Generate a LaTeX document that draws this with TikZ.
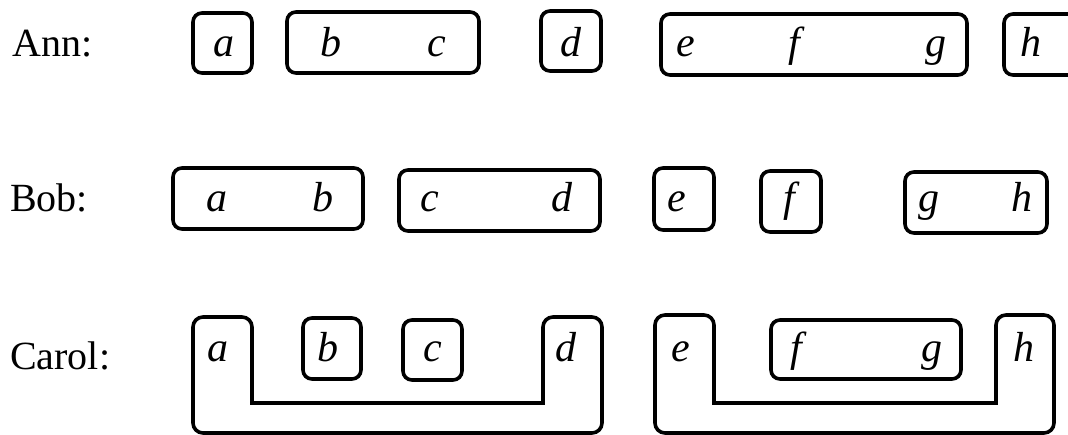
\documentclass[tikz,border=0pt]{standalone}
\usepackage{fontspec}
\setmainfont{Liberation Serif}
\begin{document}
\begin{tikzpicture}[x=1pt,y=-1pt,
  lab/.style={anchor=base west,inner sep=0pt,font=\fontsize{40}{48}\selectfont},
  let/.style={anchor=base,inner sep=0pt,font=\fontsize{42}{50}\selectfont\itshape},
  grp/.style={line width=3.6pt,rounded corners=9pt},
  ushape/.style={line width=3.6pt,line join=miter}]
\useasboundingbox (0,0) rectangle (1068,435);
% labels
\node[lab] (ann) at (12,57) {Ann:};
\node[lab] (bob) at (10,212) {Bob:};
\node[lab] (carol) at (10,370) {Carol:};
% Ann
\node[let] (aa) at (224,57) {a};
\node[let] (ab) at (331,57) {b};
\node[let] (ac) at (437,57) {c};
\node[let] (ad) at (571,57) {d};
\node[let] (ae) at (686,57) {e};
\node[let] (af) at (794,57) {f};
\node[let] (ag) at (936,57) {g};
\node[let] (ah) at (1031,57) {h};
\draw[grp] (193,13) rectangle (252,73);
\draw[grp] (287,12) rectangle (479,73);
\draw[grp] (541,11) rectangle (601,71);
\draw[grp] (661,14) rectangle (967,75);
\draw[grp] (1004,14) rectangle (1080,75);
% Bob
\node[let] (ba) at (217,212) {a};
\node[let] (bb) at (323,212) {b};
\node[let] (bc) at (430,212) {c};
\node[let] (bd) at (562,212) {d};
\node[let] (be) at (677,212) {e};
\node[let] (bf) at (789,212) {f};
\node[let] (bg) at (929,212) {g};
\node[let] (bh) at (1022,212) {h};
\draw[grp] (173,168) rectangle (363,229);
\draw[grp] (399,170) rectangle (600,231);
\draw[grp] (654,168) rectangle (714,230);
\draw[grp] (761,171) rectangle (821,232);
\draw[grp] (905,172) rectangle (1047,233);
% Carol
\node[let] (ca) at (218,362) {a};
\node[let] (cb) at (328,362) {b};
\node[let] (cc) at (433,362) {c};
\node[let] (cd) at (566,362) {d};
\node[let] (ce) at (681,362) {e};
\node[let] (cf) at (796,362) {f};
\node[let] (cg) at (932,362) {g};
\node[let] (ch) at (1024,362) {h};
\draw[grp] (303,318) rectangle (361,379);
\draw[grp] (403,320) rectangle (462,380);
\draw[grp] (771,320) rectangle (961,379);
\draw[ushape] (252,403) [rounded corners=10pt] -- (252,317) -- (193,317) -- (193,433)
  -- (602,433) -- (602,317) -- (543,317) [sharp corners] -- (543,403) -- cycle;
\draw[ushape] (714,403) [rounded corners=10pt] -- (714,315) -- (655,315) -- (655,433)
  -- (1054,433) -- (1054,315) -- (996,315) [sharp corners] -- (996,403) -- cycle;
\end{tikzpicture}
\end{document}
